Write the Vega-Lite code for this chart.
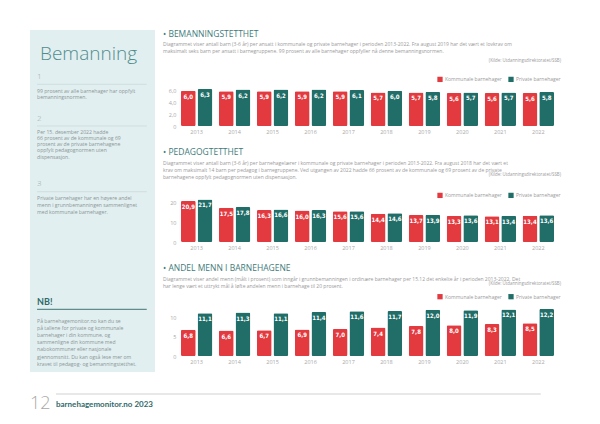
{
  "$schema": "https://vega.github.io/schema/vega-lite/v6.json",
  "background": "white",
  "padding": {"left": 30, "top": 15, "right": 5, "bottom": 5},
  "config": {
    "view": {"stroke": null},
    "font": "Open Sans",
    "locale": {"number": {"decimal": ",", "thousands": " ", "grouping": [3], "currency": ["", " kr"]}},
    "axis": {"grid": false, "ticks": false, "domain": false, "labelColor": "#a8a8a8", "labelFontSize": 5.5, "labelFont": "Open Sans"},
    "title": {"anchor": "start", "fontSize": 8.5, "fontWeight": "normal", "color": "#3e7b7b", "font": "Open Sans", "subtitleFont": "Open Sans", "subtitleFontSize": 5, "subtitleColor": "#9a9a9a", "subtitleLineHeight": 7, "subtitlePadding": 4},
    "legend": {"orient": "none", "direction": "horizontal", "titleAnchor": "end", "titleFontSize": 4.4, "titleFontWeight": "normal", "titleColor": "#9a9a9a", "labelFontSize": 5, "labelColor": "#9a9a9a", "symbolType": "square", "symbolSize": 28, "symbolStrokeWidth": 0, "symbolOpacity": 1, "columnPadding": 6, "labelOffset": 2}
  },
  "datasets": {
    "panel": [
      {"kind": "heading", "line": 3.36, "text": "Bemanning"},
      {"kind": "number", "line": 6.67, "text": "1"},
      {"kind": "sep", "line": 7.76, "text": ""},
      {"kind": "body", "line": 8.67, "text": "99 prosent av alle barnehager har oppfylt"},
      {"kind": "body", "line": 9.61, "text": "bemanningsnormen."},
      {"kind": "number", "line": 12.71, "text": "2"},
      {"kind": "sep", "line": 13.71, "text": ""},
      {"kind": "body", "line": 14.5, "text": "Per 15. desember 2022 hadde"},
      {"kind": "body", "line": 15.4, "text": "66 prosent av de kommunale og 69"},
      {"kind": "body", "line": 16.3, "text": "prosent av de private barnehagene"},
      {"kind": "body", "line": 17.2, "text": "oppfylt pedagognormen uten"},
      {"kind": "body", "line": 18.1, "text": "dispensasjon."},
      {"kind": "number", "line": 22.04, "text": "3"},
      {"kind": "sep", "line": 23.1, "text": ""},
      {"kind": "body", "line": 23.96, "text": "Private barnehager har en høyere andel"},
      {"kind": "body", "line": 25.0, "text": "menn i grunnbemanningen sammenlignet"},
      {"kind": "body", "line": 26.04, "text": "med kommunale barnehager."},
      {"kind": "nb", "line": 38.81, "text": "NB!"},
      {"kind": "nbsep", "line": 39.9, "text": ""},
      {"kind": "body", "line": 41.57, "text": "På barnehagemonitor.no kan du se"},
      {"kind": "body", "line": 42.53, "text": "på tallene for private og kommunale"},
      {"kind": "body", "line": 43.57, "text": "barnehager i din kommune, og"},
      {"kind": "body", "line": 44.57, "text": "sammenligne din kommune med"},
      {"kind": "body", "line": 45.61, "text": "nabokommuner eller nasjonale"},
      {"kind": "body", "line": 46.67, "text": "gjennomsnitt. Du kan også lese mer om"},
      {"kind": "body", "line": 47.71, "text": "kravet til pedagog- og bemanningstetthet."}
    ],
    "bemanning": [
      {"year": "2013", "type": "Kommunale barnehager", "value": 6.0},
      {"year": "2013", "type": "Private barnehager", "value": 6.3},
      {"year": "2014", "type": "Kommunale barnehager", "value": 5.9},
      {"year": "2014", "type": "Private barnehager", "value": 6.2},
      {"year": "2015", "type": "Kommunale barnehager", "value": 5.9},
      {"year": "2015", "type": "Private barnehager", "value": 6.2},
      {"year": "2016", "type": "Kommunale barnehager", "value": 5.9},
      {"year": "2016", "type": "Private barnehager", "value": 6.2},
      {"year": "2017", "type": "Kommunale barnehager", "value": 5.9},
      {"year": "2017", "type": "Private barnehager", "value": 6.1},
      {"year": "2018", "type": "Kommunale barnehager", "value": 5.7},
      {"year": "2018", "type": "Private barnehager", "value": 6.0},
      {"year": "2019", "type": "Kommunale barnehager", "value": 5.7},
      {"year": "2019", "type": "Private barnehager", "value": 5.8},
      {"year": "2020", "type": "Kommunale barnehager", "value": 5.6},
      {"year": "2020", "type": "Private barnehager", "value": 5.7},
      {"year": "2021", "type": "Kommunale barnehager", "value": 5.6},
      {"year": "2021", "type": "Private barnehager", "value": 5.7},
      {"year": "2022", "type": "Kommunale barnehager", "value": 5.6},
      {"year": "2022", "type": "Private barnehager", "value": 5.8}
    ],
    "pedagog": [
      {"year": "2013", "type": "Kommunale barnehager", "value": 20.9},
      {"year": "2013", "type": "Private barnehager", "value": 21.7},
      {"year": "2014", "type": "Kommunale barnehager", "value": 17.5},
      {"year": "2014", "type": "Private barnehager", "value": 17.8},
      {"year": "2015", "type": "Kommunale barnehager", "value": 16.3},
      {"year": "2015", "type": "Private barnehager", "value": 16.6},
      {"year": "2016", "type": "Kommunale barnehager", "value": 16.0},
      {"year": "2016", "type": "Private barnehager", "value": 16.3},
      {"year": "2017", "type": "Kommunale barnehager", "value": 15.6},
      {"year": "2017", "type": "Private barnehager", "value": 15.6},
      {"year": "2018", "type": "Kommunale barnehager", "value": 14.4},
      {"year": "2018", "type": "Private barnehager", "value": 14.6},
      {"year": "2019", "type": "Kommunale barnehager", "value": 13.7},
      {"year": "2019", "type": "Private barnehager", "value": 13.9},
      {"year": "2020", "type": "Kommunale barnehager", "value": 13.3},
      {"year": "2020", "type": "Private barnehager", "value": 13.6},
      {"year": "2021", "type": "Kommunale barnehager", "value": 13.1},
      {"year": "2021", "type": "Private barnehager", "value": 13.4},
      {"year": "2022", "type": "Kommunale barnehager", "value": 13.4},
      {"year": "2022", "type": "Private barnehager", "value": 13.6}
    ],
    "menn": [
      {"year": "2013", "type": "Kommunale barnehager", "value": 6.8},
      {"year": "2013", "type": "Private barnehager", "value": 11.1},
      {"year": "2014", "type": "Kommunale barnehager", "value": 6.6},
      {"year": "2014", "type": "Private barnehager", "value": 11.3},
      {"year": "2015", "type": "Kommunale barnehager", "value": 6.7},
      {"year": "2015", "type": "Private barnehager", "value": 11.1},
      {"year": "2016", "type": "Kommunale barnehager", "value": 6.9},
      {"year": "2016", "type": "Private barnehager", "value": 11.4},
      {"year": "2017", "type": "Kommunale barnehager", "value": 7.0},
      {"year": "2017", "type": "Private barnehager", "value": 11.6},
      {"year": "2018", "type": "Kommunale barnehager", "value": 7.4},
      {"year": "2018", "type": "Private barnehager", "value": 11.7},
      {"year": "2019", "type": "Kommunale barnehager", "value": 7.8},
      {"year": "2019", "type": "Private barnehager", "value": 12.0},
      {"year": "2020", "type": "Kommunale barnehager", "value": 8.0},
      {"year": "2020", "type": "Private barnehager", "value": 11.9},
      {"year": "2021", "type": "Kommunale barnehager", "value": 8.3},
      {"year": "2021", "type": "Private barnehager", "value": 12.1},
      {"year": "2022", "type": "Kommunale barnehager", "value": 8.5},
      {"year": "2022", "type": "Private barnehager", "value": 12.2}
    ],
    "footer": [
      {"kind": "page", "text": "12"},
      {"kind": "brand", "text": "barnehagemonitor.no 2023"}
    ],
    "empty": []
  },
  "resolve": {"scale": {"color": "independent"}, "legend": {"color": "independent"}},
  "spacing": 21,
  "vconcat": [
    {
      "resolve": {"scale": {"color": "independent"}, "legend": {"color": "independent"}},
      "spacing": 8,
      "hconcat": [
        {
          "spacing": 14,
          "vconcat": [
            {"width": 1, "height": 1, "data": {"name": "empty"}, "mark": {"type": "rule"}, "encoding": {}},
            {
              "width": 125,
              "height": 342,
              "view": {"fill": "#e2eff0", "stroke": null},
              "data": {"name": "panel"},
              "encoding": {
                "x": {"datum": 0, "type": "quantitative", "scale": {"domain": [-0.06, 1]}, "axis": null},
                "y": {"field": "line", "type": "quantitative", "scale": {"domain": [0, 48.857], "reverse": true}, "axis": null}
              },
              "layer": [
                {
                  "transform": [{"filter": "datum.kind === 'heading'"}],
                  "mark": {"type": "text", "align": "left", "baseline": "middle", "fontSize": 19, "fontWeight": 300, "font": "Open Sans", "color": "#4f8d8d"},
                  "encoding": {"x": {"datum": 0.025, "type": "quantitative"}, "text": {"field": "text"}}
                },
                {
                  "transform": [{"filter": "datum.kind === 'number'"}],
                  "mark": {"type": "text", "align": "left", "baseline": "middle", "fontSize": 8, "fontWeight": 300, "color": "#9aa9a9"},
                  "encoding": {"text": {"field": "text"}}
                },
                {
                  "transform": [{"filter": "datum.kind === 'body'"}],
                  "mark": {"type": "text", "align": "left", "baseline": "middle", "fontSize": 5.1, "color": "#8a9696", "clip": true},
                  "encoding": {"text": {"field": "text"}}
                },
                {
                  "transform": [{"filter": "datum.kind === 'nb'"}],
                  "mark": {"type": "text", "align": "left", "baseline": "middle", "fontSize": 9, "fontWeight": "bold", "font": "Lato", "color": "#2f6a6a"},
                  "encoding": {"text": {"field": "text"}}
                },
                {
                  "transform": [{"filter": "datum.kind === 'sep'"}],
                  "mark": {"type": "rule", "stroke": "#c3d2d2", "strokeWidth": 0.6},
                  "encoding": {"x2": {"datum": 0.93}}
                },
                {
                  "transform": [{"filter": "datum.kind === 'nbsep'"}],
                  "mark": {"type": "rule", "stroke": "#3f7373", "strokeWidth": 1},
                  "encoding": {"x2": {"datum": 0.93}}
                }
              ]
            }
          ]
        },
        {
          "spacing": 13,
          "resolve": {"scale": {"color": "independent"}, "legend": {"color": "independent"}},
          "vconcat": [
            {"width": 1, "height": 1, "data": {"name": "empty"}, "mark": {"type": "rule"}, "encoding": {}},
            {
              "title": {
                "text": "• BEMANNINGSTETTHET",
                "subtitle": [
                  "Diagrammet viser antall barn (3-6 år) per ansatt i kommunale og private barnehager i perioden 2013-2022. Fra august 2019 har det vært et lovkrav om",
                  "maksimalt seks barn per ansatt i barnegruppene. 99 prosent av alle barnehager oppfyller nå denne bemanningsnormen."
                ],
                "offset": 4.5
              },
              "width": 377,
              "height": 40,
              "data": {"name": "bemanning"},
              "encoding": {
                "x": {"field": "year", "type": "ordinal", "scale": {"paddingInner": 0.17, "paddingOuter": 0.05}, "axis": {"title": null, "labelAngle": 0, "labelPadding": 3}},
                "xOffset": {"field": "type", "type": "nominal", "scale": {"paddingInner": 0.11}},
                "y": {"field": "value", "type": "quantitative", "scale": {"domain": [0, 6.8]}, "axis": {"title": null, "values": [0, 2, 4, 6], "format": ".1f", "labelExpr": "datum.value === 0 ? '0' : datum.label", "labelPadding": 3, "minExtent": 16, "maxExtent": 16}}
              },
              "layer": [
                {
                  "mark": {"type": "bar", "cornerRadius": 1.5},
                  "encoding": {
                    "color": {"field": "type", "type": "nominal", "scale": {"domain": ["Kommunale barnehager", "Private barnehager"], "range": ["#e23a3f", "#216e69"]},
                      "legend": {"title": "(Kilde: Utdanningsdirektoratet/SSB)", "legendX": 258, "legendY": -27.4, "titlePadding": 13.4}}
                  }
                },
                {
                  "mark": {"type": "text", "baseline": "top", "dy": 3, "color": "white", "font": "DejaVu Sans Condensed", "fontWeight": "bold", "fontSize": 6},
                  "encoding": {"text": {"field": "value", "type": "quantitative", "format": ".1f"}}
                }
              ]
            },
            {
              "title": {
                "text": "• PEDAGOGTETTHET",
                "subtitle": [
                  "Diagrammet viser antall barn (3-6 år) per barnehagelærer i kommunale og private barnehager i perioden 2013-2022. Fra august 2018 har det vært et",
                  "krav om maksimalt 14 barn per pedagog i barnegruppene. Ved utgangen av 2022 hadde 66 prosent av de kommunale og 69 prosent av de private",
                  "barnehagene oppfylt pedagognormen uten dispensasjon."
                ],
                "offset": -6.5
              },
              "width": 377,
              "height": 44,
              "data": {"name": "pedagog"},
              "encoding": {
                "x": {"field": "year", "type": "ordinal", "scale": {"paddingInner": 0.17, "paddingOuter": 0.05}, "axis": {"title": null, "labelAngle": 0, "labelPadding": 3}},
                "xOffset": {"field": "type", "type": "nominal", "scale": {"paddingInner": 0.11}},
                "y": {"field": "value", "type": "quantitative", "scale": {"domain": [0, 22.4]}, "axis": {"title": null, "values": [0, 10, 20], "labelPadding": 3, "minExtent": 16, "maxExtent": 16}}
              },
              "layer": [
                {
                  "mark": {"type": "bar", "cornerRadius": 1.5},
                  "encoding": {
                    "color": {"field": "type", "type": "nominal", "scale": {"domain": ["Kommunale barnehager", "Private barnehager"], "range": ["#e23a3f", "#216e69"]},
                      "legend": {"title": "(Kilde: Utdanningsdirektoratet/SSB)", "legendX": 258, "legendY": -24.7, "titlePadding": 14.7}}
                  }
                },
                {
                  "mark": {"type": "text", "baseline": "top", "dy": 3, "color": "white", "font": "DejaVu Sans Condensed", "fontWeight": "bold", "fontSize": 6},
                  "encoding": {"text": {"field": "value", "type": "quantitative", "format": ".1f"}}
                }
              ]
            },
            {
              "title": {
                "text": "• ANDEL MENN I BARNEHAGENE",
                "subtitle": [
                  "Diagrammet viser andel menn (målt i prosent) som inngår i grunnbemanningen i ordinære barnehager per 15.12 det enkelte år i perioden 2013-2022. Det",
                  "har lenge vært et uttrykt mål å løfte andelen menn i barnehage til 20 prosent."
                ],
                "offset": -6.5
              },
              "width": 377,
              "height": 48,
              "data": {"name": "menn"},
              "encoding": {
                "x": {"field": "year", "type": "ordinal", "scale": {"paddingInner": 0.17, "paddingOuter": 0.05}, "axis": {"title": null, "labelAngle": 0, "labelPadding": 3}},
                "xOffset": {"field": "type", "type": "nominal", "scale": {"paddingInner": 0.11}},
                "y": {"field": "value", "type": "quantitative", "scale": {"domain": [0, 12.47]}, "axis": {"title": null, "values": [0, 5, 10], "labelPadding": 3, "minExtent": 16, "maxExtent": 16}}
              },
              "layer": [
                {
                  "mark": {"type": "bar", "cornerRadius": 1.5},
                  "encoding": {
                    "color": {"field": "type", "type": "nominal", "scale": {"domain": ["Kommunale barnehager", "Private barnehager"], "range": ["#e23a3f", "#216e69"]},
                      "legend": {"title": "(Kilde: Utdanningsdirektoratet/SSB)", "legendX": 258, "legendY": -26, "titlePadding": 7.3}}
                  }
                },
                {
                  "mark": {"type": "text", "baseline": "top", "dy": 3, "color": "white", "font": "DejaVu Sans Condensed", "fontWeight": "bold", "fontSize": 6},
                  "encoding": {"text": {"field": "value", "type": "quantitative", "format": ".1f"}}
                }
              ]
            }
          ]
        }
      ]
    },
    {
      "width": 530,
      "height": 20,
      "data": {"name": "footer"},
      "encoding": {
        "y": {"datum": 0, "type": "quantitative", "scale": {"domain": [0, 20], "reverse": true}, "axis": null}
      },
      "layer": [
        {
          "mark": {"type": "rule", "stroke": "#dcdcdc", "strokeWidth": 0.8},
          "encoding": {
            "x": {"datum": 27, "type": "quantitative", "scale": {"domain": [0, 530]}, "axis": null},
            "x2": {"datum": 530}
          }
        },
        {
          "transform": [{"filter": "datum.kind === 'page'"}],
          "mark": {"type": "text", "align": "left", "baseline": "alphabetic", "fontSize": 18, "fontWeight": 300, "color": "#a8a8a8"},
          "encoding": {
            "x": {"datum": 0, "type": "quantitative"},
            "y": {"datum": 15, "type": "quantitative"},
            "text": {"field": "text"}
          }
        },
        {
          "transform": [{"filter": "datum.kind === 'brand'"}],
          "mark": {"type": "text", "align": "left", "baseline": "alphabetic", "fontSize": 8, "fontWeight": "bold", "font": "Lato", "color": "#2f6a6a"},
          "encoding": {
            "x": {"datum": 27, "type": "quantitative"},
            "y": {"datum": 13, "type": "quantitative"},
            "text": {"field": "text"}
          }
        }
      ]
    }
  ]
}
